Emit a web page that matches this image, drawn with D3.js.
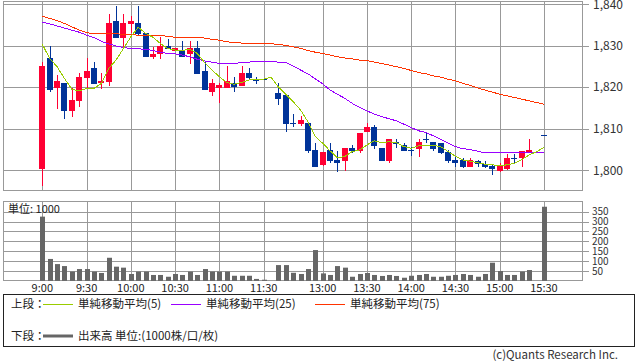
<!DOCTYPE html>
<html><head><meta charset="utf-8">
<script src="https://cdn.jsdelivr.net/npm/d3@7"></script>
<style>
body{margin:0;background:#fff}
svg{display:block}
text{font-family:"Noto Sans CJK JP","DejaVu Sans",sans-serif}
</style>
</head><body>
<svg id="c" width="638" height="362"></svg>
<script>
const times = ["9:00","9:05","9:10","9:15","9:20","9:25","9:30","9:35","9:40","9:45","9:50","9:55",
"10:00","10:05","10:10","10:15","10:20","10:25","10:30","10:35","10:40","10:45","10:50","10:55",
"11:00","11:05","11:10","11:15","11:20","11:25","11:30","12:25",
"12:30","12:35","12:40","12:45","12:50","12:55","13:00","13:05","13:10","13:15","13:20","13:25",
"13:30","13:35","13:40","13:45","13:50","13:55","14:00","14:05","14:10","14:15","14:20","14:25",
"14:30","14:35","14:40","14:45","14:50","14:55","15:00","15:05","15:10","15:15","15:20","15:25","15:30"];

const open = [1800.4,1827.1,1819.9,1821.1,1814.3,1816.7,1822.3,1824.6,1820.9,1821.2,1835.9,1831.9,
1835.2,1835.4,1832.9,1827.3,1828.0,1829.9,1828.8,1828.9,1827.9,1829.5,1823.9,1818.9,
1819.9,1819.9,1820.9,1820.3,1823.4,1821.7,1821.9,null,
1818.5,1818.2,1811.3,1811.1,1811.4,1804.9,1801.3,1804.9,1802.5,1802.3,1805.4,1804.7,
1809.3,1810.4,1805.4,1802.2,1806.9,1806.1,1804.9,1805.2,1807.5,1806.9,1806.5,1804.4,
1802.5,1802.5,1800.9,1802.3,1801.5,1801.1,1799.9,1800.3,1802.9,1802.9,1804.2,null,1808.4];
const high = [1826.1,1829.9,1822.9,1821.1,1819.7,1823.5,1826.9,1826.1,1823.3,1837.6,1839.5,1837.6,
1837.1,1839.5,1832.9,1829.7,1832.1,1831.5,1829.5,1831.1,1831.1,1831.1,1826.1,1821.9,
1821.0,1825.1,1822.5,1825.1,1824.6,1822.5,1821.9,null,
1820.9,1818.2,1813.5,1813.1,1811.4,1806.5,1804.5,1806.5,1804.6,1805.4,1806.1,1809.0,
1811.4,1810.9,1805.4,1807.5,1807.5,1806.5,1805.7,1807.5,1809.3,1806.9,1806.5,1804.9,
1803.5,1803.0,1802.9,1802.6,1802.3,1801.5,1801.8,1803.9,1803.9,1804.7,1807.5,null,1808.6];
const low = [1796.3,1818.9,1814.7,1812.4,1812.9,1815.3,1819.7,1820.8,1819.5,1820.3,1831.9,1829.7,
1832.9,1832.5,1827.3,1826.8,1826.8,1829.2,1828.8,1827.3,1825.5,1823.2,1819.4,1817.9,
1816.3,1819.9,1818.9,1820.3,1821.7,1820.7,1821.9,null,
1815.7,1809.3,1810.3,1810.6,1804.2,1800.9,1801.1,1801.8,1799.5,1799.9,1804.1,1804.2,
1809.3,1805.1,1802.3,1801.8,1805.3,1804.7,1803.4,1803.3,1806.6,1804.7,1803.9,1801.7,
1800.9,1800.5,1800.9,1800.9,1800.5,1798.8,1799.5,1800.1,1801.7,1800.9,1804.2,null,1808.2];
const close = [1825.1,1819.3,1821.5,1814.3,1816.9,1822.4,1823.9,1820.8,1821.5,1835.4,1831.9,1835.4,
1835.9,1832.8,1827.3,1828.0,1829.9,1829.2,1829.5,1827.3,1829.5,1823.2,1819.4,1820.9,
1820.5,1821.5,1820.0,1823.4,1822.3,1821.7,1821.9,null,
1817.1,1811.2,1811.3,1812.1,1804.7,1800.9,1804.5,1802.3,1801.8,1805.4,1804.6,1809.0,
1810.4,1805.9,1802.3,1807.5,1806.3,1804.7,1804.9,1806.9,1807.5,1805.2,1804.2,1802.3,
1801.8,1800.9,1802.5,1801.5,1800.9,1800.3,1801.1,1802.9,1802.9,1804.7,1804.8,null,1808.4];

const volume = [325,111,85,75,47,60,60,47,40,117,72,67,
35,47,47,30,30,21,35,30,47,30,60,47,
47,47,26,26,26,10,6,null,
80,80,41,35,60,156,38,30,75,67,21,35,
40,30,25,30,25,16,26,30,35,21,21,26,
30,35,30,21,35,92,50,30,30,47,55,null,375];

const ma5 = [1830.3,1826.9,1824.9,1822.1,1819.5,1819.1,1819.7,1819.7,1820.9,1824.5,1826.5,1829.3,
1832.1,1834.4,1832.9,1832.0,1830.5,1829.3,1828.9,1828.8,1829.1,1828.1,1825.9,1824.1,
1822.5,1821.1,1820.7,1821.1,1821.7,1821.9,1821.9,1822.4,
1820.0,1818.3,1816.5,1814.5,1811.7,1808.1,1806.5,1804.7,1803.0,1803.3,1804.5,1804.9,
1806.1,1807.1,1806.6,1806.9,1806.6,1805.7,1805.3,1805.9,1806.0,1806.0,1805.7,1804.5,
1803.4,1802.5,1802.2,1801.8,1801.5,1801.3,1801.2,1801.3,1801.7,1802.6,1803.7,1804.5,1805.5];
const ma25 = [1835.6,1835.2,1834.7,1834.2,1833.7,1833.2,1832.5,1831.9,1831.0,1830.4,1829.9,1829.5,
1829.3,1829.2,1829.1,1828.8,1828.4,1828.1,1828.0,1827.7,1827.3,1826.7,1826.3,1826.0,
1825.7,1825.7,1825.7,1825.9,1826.0,1826.2,1826.2,1826.2,
1826.0,1825.9,1825.1,1824.1,1823.2,1822.0,1820.8,1819.3,1818.3,1817.3,1816.1,1815.1,
1814.3,1813.5,1812.9,1812.4,1811.9,1811.1,1810.3,1809.5,1809.1,1808.3,1807.4,1806.6,
1805.7,1805.2,1805.0,1804.6,1804.2,1804.2,1804.2,1804.2,1804.2,1804.2,1804.2,1804.2,1804.2];
const ma75 = [1837.1,1836.5,1836.0,1835.3,1834.5,1833.7,1833.1,1832.8,1832.8,1832.8,1832.8,1832.7,
1832.6,1832.5,1832.5,1832.4,1832.4,1832.2,1832.0,1832.0,1832.0,1832.0,1831.8,1831.5,
1831.3,1830.9,1830.7,1830.6,1830.5,1830.5,1830.4,1830.4,
1830.3,1830.0,1829.7,1829.3,1828.8,1828.4,1828.1,1827.7,1827.3,1827.0,1826.8,1826.5,
1826.4,1826.0,1825.7,1825.3,1824.9,1824.5,1824.0,1823.5,1823.2,1822.7,1822.4,1821.9,
1821.5,1820.9,1820.4,1819.8,1819.3,1818.8,1818.3,1817.9,1817.5,1817.1,1816.7,1816.3,1815.9];

const timeTicks = ["9:00","9:30","10:00","10:30","11:00","11:30","13:00","13:30","14:00","14:30","15:00","15:30"];
const priceTicks = [1800,1810,1820,1830,1840];
const volumeTicks = [50,100,150,200,250,300,350];
const legendItems = [
  {label:"単純移動平均(5)", color:"#99cc00"},
  {label:"単純移動平均(25)", color:"#9900ff"},
  {label:"単純移動平均(75)", color:"#ff3300"}
];

const svg = d3.select("#c");
const L = 3.5, R = 582.5, PT = 1.5, PB = 190.5, VT = 201.5, VB = 280.5;
const GRID = "#999";

const x = d3.scalePoint().domain(times).range([42.3, 544]);
const y = d3.scaleLinear().domain([1795.2, 1840.7]).range([190.3, 1]);
const yv = d3.scaleLinear().domain([0, 400]).range([280.9, 201.8]);
const px = t => Math.round(x(t)) + 0.5;

// price panel grid
const gp = svg.append("g");
gp.selectAll("line.h").data(priceTicks).join("line")
  .attr("x1", L).attr("x2", 589).attr("y1", d => Math.round(y(d)) + 0.5).attr("y2", d => Math.round(y(d)) + 0.5)
  .attr("stroke", GRID);
gp.selectAll("line.v").data(timeTicks).join("line")
  .attr("x1", px).attr("x2", px).attr("y1", PT).attr("y2", PB).attr("stroke", GRID);
gp.append("rect").attr("x", L).attr("y", PT).attr("width", R - L).attr("height", PB - PT)
  .attr("fill", "none").attr("stroke", GRID);
gp.selectAll("text").data(priceTicks).join("text")
  .attr("x", 593).attr("y", d => Math.max(y(d), 5)).attr("dy", "0.35em")
  .attr("font-size", 12).attr("fill", "#333").text(d3.format(","));

// volume panel grid
const gv = svg.append("g");
gv.selectAll("line.h").data(volumeTicks).join("line")
  .attr("x1", L).attr("x2", 589).attr("y1", d => Math.round(yv(d)) + 0.5).attr("y2", d => Math.round(yv(d)) + 0.5)
  .attr("stroke", GRID);
gv.selectAll("line.v").data(timeTicks).join("line")
  .attr("x1", px).attr("x2", px).attr("y1", VT).attr("y2", VB).attr("stroke", GRID);
gv.append("rect").attr("x", L).attr("y", VT).attr("width", R - L).attr("height", VB - VT)
  .attr("fill", "none").attr("stroke", GRID);
gv.selectAll("text.vl").data(volumeTicks).join("text")
  .attr("x", 592).attr("y", d => yv(d)).attr("dy", "0.35em")
  .attr("font-size", 10).attr("fill", "#333").text(d => d);
gv.append("text").attr("x", 8).attr("y", 209).attr("dy", "0.35em").attr("font-size", 11).attr("fill", "#222").text("単位: 1000");

// time labels
svg.append("g").selectAll("text").data(timeTicks).join("text")
  .attr("x", d => x(d)).attr("y", 288).attr("dy", "0.35em").attr("text-anchor", "middle")
  .attr("font-size", 11).attr("fill", "#222").text(d => d);

// volume bars
const vidx = d3.range(times.length).filter(i => volume[i] != null);
svg.append("g").selectAll("rect").data(vidx).join("rect")
  .attr("x", i => Math.round(x(times[i])) - 2).attr("width", 5)
  .attr("y", i => yv(volume[i])).attr("height", i => yv(0) - yv(volume[i]))
  .attr("fill", "#666");

// candles
const cidx = d3.range(times.length).filter(i => open[i] != null);
const col = i => close[i] > open[i] ? "#ff0033" : "#003399";
const gc = svg.append("g").attr("shape-rendering", "crispEdges");
gc.selectAll("line").data(cidx).join("line")
  .attr("x1", i => px(times[i])).attr("x2", i => px(times[i]))
  .attr("y1", i => y(high[i])).attr("y2", i => y(low[i])).attr("stroke", col);
gc.selectAll("rect").data(cidx).join("rect")
  .attr("x", i => Math.round(x(times[i])) - 3).attr("width", 6)
  .attr("y", i => y(Math.max(open[i], close[i])))
  .attr("height", i => Math.max(1, Math.abs(y(open[i]) - y(close[i]))))
  .attr("fill", col);

// moving averages
const line = arr => d3.line().x((d, i) => x(times[i])).y(d => y(d))(arr);
const ga = svg.append("g").attr("fill", "none").attr("shape-rendering", "crispEdges");
ga.append("path").attr("d", line(ma75)).attr("stroke", "#ff3300");
ga.append("path").attr("d", line(ma25)).attr("stroke", "#9900ff");
ga.append("path").attr("d", line(ma5)).attr("stroke", "#99cc00");

// legend
const lg = svg.append("g");
lg.append("rect").attr("x", 3.5).attr("y", 294.5).attr("width", 631).attr("height", 52)
  .attr("fill", "none").attr("stroke", "#222");
lg.append("text").attr("x", 11).attr("y", 304).attr("dy", "0.35em").attr("font-size", 11.5).attr("fill", "#222").text("上段：");
const lx = [43, 171, 315];
legendItems.forEach((d, k) => {
  lg.append("line").attr("x1", lx[k]).attr("x2", lx[k] + 30).attr("y1", 304.5).attr("y2", 304.5).attr("stroke", d.color);
  lg.append("text").attr("x", lx[k] + 35).attr("y", 304).attr("dy", "0.35em").attr("font-size", 11.5).attr("fill", "#222").text(d.label);
});
lg.append("text").attr("x", 11).attr("y", 336).attr("dy", "0.35em").attr("font-size", 11.5).attr("fill", "#222").text("下段：");
lg.append("line").attr("x1", 43).attr("x2", 73).attr("y1", 336).attr("y2", 336).attr("stroke", "#666").attr("stroke-width", 3);
lg.append("text").attr("x", 78).attr("y", 336).attr("dy", "0.35em").attr("font-size", 11.5).attr("fill", "#222").text("出来高 単位:(1000株/口/枚)");

svg.append("text").attr("x", 618).attr("y", 355).attr("dy", "0.35em").attr("text-anchor", "end")
  .attr("font-size", 11.5).attr("fill", "#333").text("(c)Quants Research Inc.");
</script>
</body></html>
